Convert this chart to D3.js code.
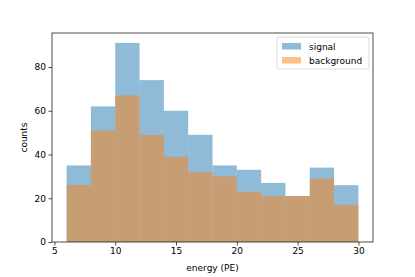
<!DOCTYPE html>
<html>
<head>
<meta charset="utf-8">
<script src="https://cdn.jsdelivr.net/npm/d3@7"></script>
<style>
  body { margin: 0; background: #fff; }
  svg { display: block; font-family: "DejaVu Sans", sans-serif; }
</style>
</head>
<body>
<svg id="chart"></svg>
<script>
const binEdges = [6, 8, 10, 12, 14, 16, 18, 20, 22, 24, 26, 28, 30];
const signal = [35, 62, 91, 74, 60, 49, 35, 33, 27, 21, 34, 26];
const background = [26, 51, 67, 49, 39, 32, 30, 23, 21, 21, 29, 17];
const xTicks = [5, 10, 15, 20, 25, 30];
const yTicks = [0, 20, 40, 60, 80];

const W = 415, H = 277;
const m = { top: 33, right: 42, bottom: 35, left: 52 };
const w = W - m.left - m.right;
const h = H - m.top - m.bottom;

const svg = d3.select('#chart').attr('width', W).attr('height', H);
const g = svg.append('g').attr('transform', `translate(${m.left},${m.top})`);

const x = d3.scaleLinear().domain([4.8, 31.2]).range([0, w]);
const y = d3.scaleLinear().domain([0, 91 * 1.05]).range([h, 0]);

const series = [
  { name: 'signal', values: signal, color: '#1f77b4' },
  { name: 'background', values: background, color: '#ff7f0e' }
];

series.forEach(s => {
  g.selectAll(null)
    .data(s.values)
    .join('rect')
      .attr('x', (_, i) => x(binEdges[i]))
      .attr('y', d => y(d))
      .attr('width', (_, i) => x(binEdges[i + 1]) - x(binEdges[i]))
      .attr('height', d => h - y(d))
      .attr('fill', s.color)
      .attr('fill-opacity', 0.5);
});

const xAxis = d3.axisBottom(x).tickValues(xTicks).tickSize(3.5).tickPadding(2.5);
const yAxis = d3.axisLeft(y).tickValues(yTicks).tickSize(3.5).tickPadding(2.5);

const gx = g.append('g').attr('transform', `translate(0,${h})`).call(xAxis);
const gy = g.append('g').call(yAxis);
[gx, gy].forEach(a => {
  a.select('.domain').remove();
  a.selectAll('text').attr('font-size', 9).attr('font-family', 'DejaVu Sans').attr('fill', '#000');
  a.selectAll('line').attr('stroke', '#000').attr('stroke-width', 0.7);
});

// frame
g.append('rect')
  .attr('width', w).attr('height', h)
  .attr('fill', 'none').attr('stroke', '#000').attr('stroke-width', 0.7);

svg.append('text')
  .attr('x', m.left + w / 2).attr('y', H - 6)
  .attr('text-anchor', 'middle').attr('font-size', 9)
  .text('energy (PE)');

svg.append('text')
  .attr('transform', `translate(27,${m.top + h / 2}) rotate(-90)`)
  .attr('text-anchor', 'middle').attr('font-size', 9)
  .text('counts');

// legend
const lg = g.append('g').attr('transform', `translate(${w - 96},4)`);
lg.append('rect')
  .attr('width', 92).attr('height', 32).attr('rx', 2)
  .attr('fill', '#fff').attr('fill-opacity', 0.8)
  .attr('stroke', '#ccc').attr('stroke-width', 0.7);
series.forEach((s, i) => {
  const row = lg.append('g').attr('transform', `translate(5,${6 + i * 14})`);
  row.append('rect').attr('width', 19).attr('height', 6.5)
    .attr('fill', s.color).attr('fill-opacity', 0.5);
  row.append('text').attr('x', 27).attr('y', 6.5).attr('font-size', 9).text(s.name);
});
</script>
</body>
</html>
